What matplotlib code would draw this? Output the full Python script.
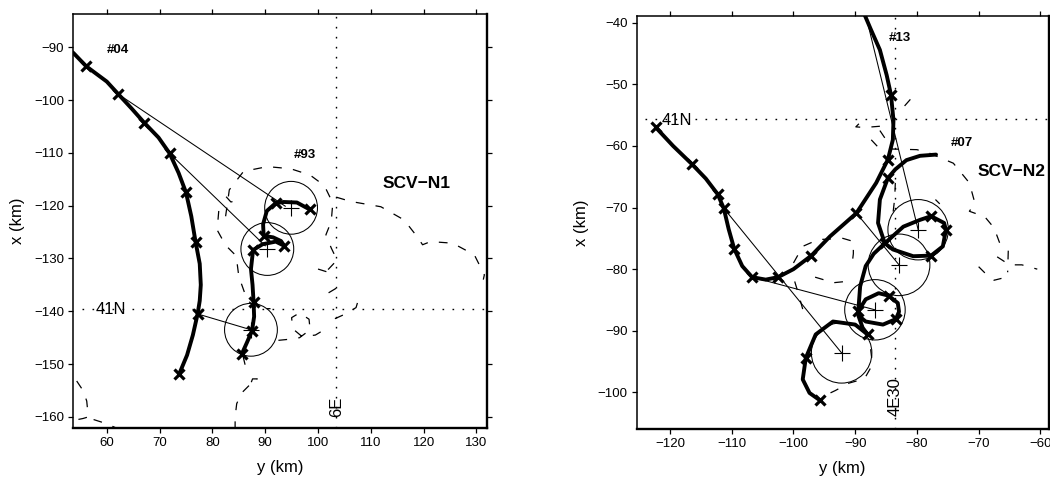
import matplotlib
matplotlib.use("Agg")
import matplotlib.pyplot as plt
from matplotlib.patches import Circle

plt.rcParams['font.family'] = ['Liberation Sans', 'DejaVu Sans']

# ---------------- Left panel (SCV-N1) ----------------
L_xticks = [60, 70, 80, 90, 100, 110, 120, 130]
L_yticks = [-160, -150, -140, -130, -120, -110, -100, -90]

L_track04_y = [52, 53.7, 56.1, 60, 62.2, 64.7, 67.1, 69.8, 71.9, 73.6, 75.0, 76.0, 76.8, 77.6, 77.8, 77.6, 77.2, 76.3, 75.2, 73.7]
L_track04_x = [-89.8, -91.1, -93.6, -96.5, -98.9, -101.6, -104.3, -107.1, -110.1, -113.8, -117.5, -122, -126.8, -131, -135, -138, -140.5, -144.5, -148.3, -151.9]
L_mark04_y = [56.1, 62.2, 67.1, 71.9, 75.0, 76.8, 77.2, 73.7]
L_mark04_x = [-93.6, -98.9, -104.3, -110.1, -117.5, -126.8, -140.5, -151.9]

L_track93_y = [98.4, 96.0, 93.5, 92.0, 90.3, 89.6, 89.7, 91.5, 93.0, 93.6, 92.0, 89.5, 87.7, 87.3, 87.6, 87.8, 87.9, 87.5, 86.5, 85.6]
L_track93_x = [-120.7, -119.4, -119.3, -119.5, -121.0, -123.5, -125.7, -126.0, -126.7, -127.6, -126.8, -127.3, -128.4, -132, -135, -138.3, -141, -143.7, -146, -148.0]
L_mark93_y = [92.0, 98.4, 89.7, 93.6, 87.7, 87.8, 87.5, 85.6]
L_mark93_x = [-119.5, -120.7, -125.7, -127.6, -128.4, -138.3, -143.7, -148.0]

L_circ_y = [94.9, 90.4, 87.3]
L_circ_x = [-120.4, -128.2, -143.5]
L_circ_r = [5.0, 5.0, 5.0]

L_link_y0 = [62.2, 71.9, 77.2]
L_link_x0 = [-98.9, -110.1, -140.5]
L_link_y1 = [93.8, 90.0, 87.3]
L_link_x1 = [-120.1, -127.6, -143.5]

L_dashed = [
    ([82.5, 83.2, 85.9, 90.4, 94.8, 98.5, 101.2, 102.8, 102.5, 101.5, 102.5, 103.6, 102.0, 100.5],
     [-122, -117, -113.5, -112.6, -113.0, -114.2, -116.2, -119.5, -123, -125.5, -128, -130.3, -132, -133]),
    ([103.5, 106.2, 111.9, 116.3, 118.8, 119.8, 121.3, 125.5, 129.6, 131.5, 131.3],
     [-118.4, -119.2, -120.2, -122.7, -125.9, -127.4, -126.8, -127.1, -129.3, -133.1, -134]),
    ([82.6, 83.5, 84.7, 84.4], [-118.3, -119.3, -119.0, -118.0]),
    ([81.2, 80.9, 82.5, 84.5, 85.0, 86.6, 88.5, 91.0], [-121, -124.6, -127.5, -129.5, -133.4, -137.9, -139.5, -139.5]),
    ([92.5, 94.5, 96.5, 98.5, 98.3, 96.5, 95.0, 95.2, 97.0, 99.5, 101.5],
     [-145.5, -145.3, -145.0, -143.5, -141.5, -140.3, -141.2, -143.3, -144.8, -144.5, -143.3]),
    ([102.0, 104.5], [-136.5, -135.0]),
    ([103.2, 105.2, 107.2, 107.5, 106.8], [-141.4, -140.5, -139.3, -138.3, -137.5]),
    ([100.0, 101.6, 102.1], [-132.0, -132.5, -134.0]),
    ([54.3, 55.5, 56.2, 56.5, 55.5, 54.5], [-153.2, -155, -157, -160.0, -160.3, -160.5]),
    ([57.5, 60.0, 62.0], [-160.5, -161.3, -162.2]),
    ([84.3, 84.3, 84.6, 85.5, 87.0, 88.3, 88.5, 87.6, 87.3], [-162.5, -160, -157.5, -155.5, -154, -153.5, -152.8, -152.8, -153.6]),
    ([85.8, 86.4], [-148.5, -151.0]),
]

# ---------------- Right panel (SCV-N2) ----------------
R_xticks = [-120, -110, -100, -90, -80, -70, -60]
R_yticks = [-100, -90, -80, -70, -60, -50, -40]

R_track13_y = [-122.3, -119.5, -116.5, -114.2, -112.3, -111.3, -110.5, -109.6, -108.3, -106.7, -104.5, -102.5, -100, -97.1, -94.1, -89.8, -86.6, -84.7, -83.9, -83.8, -84.2, -84.9, -86.0, -87.5, -89.2]
R_track13_x = [-57.0, -60.0, -62.9, -65.3, -67.8, -70.1, -73.5, -76.7, -79.5, -81.3, -81.7, -81.3, -80, -77.8, -74.7, -70.9, -66.0, -62.2, -59.0, -55.8, -51.7, -48.5, -44.4, -41, -37]
R_mark13_y = [-122.3, -116.5, -112.3, -111.3, -109.6, -106.7, -102.5, -97.1, -89.8, -84.7, -84.2]
R_mark13_x = [-57.0, -62.9, -67.8, -70.1, -76.7, -81.3, -81.3, -77.8, -70.9, -62.2, -51.7]

R_track07_y = [-76.9, -79.5, -81.7, -83.5, -84.7, -86.0, -86.3, -85.2, -82.2, -79.5, -77.7, -75.6, -75.3, -75.8, -77.7, -80.6, -83.9, -85.2,
               -87.0, -88.3, -89.2, -89.5, -88.3, -86.2, -84.6, -83.1, -82.9, -83.4, -85.5, -88.3, -89.5, -88.8, -88.0, -90.0, -93.6, -96.4, -98.0, -98.5, -97.4, -95.7]
R_track07_x = [-61.4, -61.6, -62.3, -63.8, -65.2, -68.7, -72.5, -75.8, -73.1, -72.0, -71.4, -72.5, -73.6, -76.3, -77.8, -77.9, -76.8, -75.8,
               -77.5, -79.5, -82.8, -86.8, -84.9, -83.9, -84.3, -85.5, -86.9, -88.1, -89.0, -88.5, -87.5, -89.5, -90.6, -89.0, -88.5, -90.6, -94.4, -97.9, -100.1, -101.3]
R_mark07_y = [-84.7, -85.2, -77.7, -75.3, -77.7, -89.5, -84.6, -83.4, -88.0, -98.0, -95.7]
R_mark07_x = [-65.2, -75.8, -71.4, -73.6, -77.8, -86.8, -84.3, -88.1, -90.6, -94.4, -101.3]

R_circ_y = [-79.8, -82.9, -86.8, -92.2]
R_circ_x = [-73.6, -79.3, -86.6, -93.6]
R_circ_r = [4.9, 5.0, 4.9, 4.9]

R_link_y0 = [-88.6, -111.3, -106.7, -89.8]
R_link_x0 = [-37.5, -70.1, -81.3, -70.9]
R_link_y1 = [-79.8, -92.2, -86.8, -82.9]
R_link_x1 = [-73.6, -93.6, -86.6, -79.3]

R_dashed = [
    ([-86.0, -84.0, -80.0, -77.9, -74.1, -71.5, -70.6, -71.5, -69.0, -67.5, -66.5],
     [-57.5, -60.5, -60.6, -61.2, -62.8, -66.0, -69.3, -70.6, -71.5, -73.3, -76]),
    ([-70.0, -68.8, -67.5, -66.3], [-79.6, -80.8, -81.8, -81.5]),
    ([-67.0, -65.0, -63.0, -60.5], [-78.0, -79.3, -79.3, -80.0]),
    ([-65.2, -65.3], [-77.0, -80.5]),
    ([-82.0, -80.5], [-53.5, -51.8]),
    ([-89.4, -89.9, -88.5, -86.0], [-56.4, -56.9, -57.0, -56.8]),
    ([-87.4, -86.0], [-59.0, -60.5]),
    ([-83.5, -83.6, -84.0], [-66.0, -68.5, -72.0]),
    ([-100.0, -98.5, -96.0, -92.0, -90.3, -90.3, -90.6], [-79.0, -76.3, -75.2, -75.0, -75.5, -77.5, -80.0]),
    ([-99.8, -99.2, -98.5, -97.5], [-82.0, -84.0, -86.5, -87.5]),
    ([-87.5, -87.2, -88.5, -91.0, -93.2, -95.5], [-93.0, -95.5, -97.8, -98.5, -99.7, -100.8]),
    ([-96.5, -93.5, -91.5], [-81.3, -82.2, -82.0]),
    ([-77.0, -76.3], [-68.7, -69.4]),
]

fig = plt.figure(figsize=(10.5, 4.79), dpi=100)
axL = fig.add_axes([73 / 1050, 51 / 479, 414 / 1050, 414 / 479])
axR = fig.add_axes([636.7 / 1050, 49.7 / 479, 412 / 1050, 413.3 / 479])

DASH = (0, (7, 9))
DOT = (0, (1.2, 6))


def style(ax, xticks, yticks, xlim, ylim):
    ax.set_xlim(*xlim)
    ax.set_ylim(*ylim)
    ax.set_xticks(xticks)
    ax.set_yticks(yticks)
    ax.tick_params(direction='out', length=3.5, width=0.9, top=True, right=True,
                   labeltop=False, labelright=False, labelsize=9.5, pad=3)
    for s in ['left', 'top']:
        ax.spines[s].set_linewidth(1.1)
    for s in ['bottom', 'right']:
        ax.spines[s].set_linewidth(1.7)
    ax.set_xlabel('y (km)', fontsize=12)
    ax.set_ylabel('x (km)', fontsize=12)
    ax.xaxis.set_label_coords(0.5, -0.096)
    ax.xaxis.label.set_va('center')
    ax.yaxis.set_label_coords(-0.135, 0.5)
    ax.yaxis.label.set_va('center')


def draw(ax, tracks, marks, circ, links, dashed):
    for (yy, xx) in dashed:
        ax.plot(yy, xx, color='black', lw=0.9, ls=DASH, zorder=2)
    for (y0, x0, y1, x1) in zip(*links):
        ax.plot([y0, y1], [x0, x1], color='black', lw=0.75, zorder=3)
    for (cy, cx, r) in zip(*circ):
        ax.add_patch(Circle((cy, cx), r, fill=False, ec='black', lw=0.75, zorder=3))
    ax.plot(circ[0], circ[1], ls='none', marker='+', ms=11, mew=0.8, color='black', zorder=3)
    for (yy, xx) in tracks:
        ax.plot(yy, xx, color='black', lw=2.8, solid_capstyle='round', solid_joinstyle='round', zorder=4)
    for (yy, xx) in marks:
        ax.plot(yy, xx, ls='none', marker='x', ms=7.5, mew=2.3, color='black', zorder=5)


# Left panel
style(axL, L_xticks, L_yticks, (53.6, 132.0), (-162.1, -83.7))
axL.axvline(103.45, color='black', lw=1.0, ls=DOT, zorder=1)
axL.plot([55.3, 132.0], [-139.6, -139.6], color='black', lw=1.0, ls=DOT, zorder=1)
draw(axL,
     [(L_track04_y, L_track04_x), (L_track93_y, L_track93_x)],
     [(L_mark04_y, L_mark04_x), (L_mark93_y, L_mark93_x)],
     (L_circ_y, L_circ_x, L_circ_r),
     (L_link_y0, L_link_x0, L_link_y1, L_link_x1),
     L_dashed)
axL.text(60.0, -90.6, '#04', fontsize=9.5, fontweight='bold', ha='left', va='center')
axL.text(95.4, -110.4, '#93', fontsize=9.5, fontweight='bold', ha='left', va='center')
axL.text(112.2, -115.8, 'SCV\u2212N1', fontsize=12.5, fontweight='bold', ha='left', va='center')
axL.text(57.8, -139.6, '41N', fontsize=12, ha='left', va='center', zorder=6)
axL.text(103.45, -160.0, '6E', fontsize=12, rotation=90, ha='center', va='bottom', zorder=6)

# Right panel
style(axR, R_xticks, R_yticks, (-125.4, -58.65), (-106.0, -38.9))
axR.axvline(-83.6, color='black', lw=1.0, ls=DOT, zorder=1)
axR.plot([-124.0, -58.65], [-55.7, -55.7], color='black', lw=1.0, ls=DOT, zorder=1)
draw(axR,
     [(R_track13_y, R_track13_x), (R_track07_y, R_track07_x)],
     [(R_mark13_y, R_mark13_x), (R_mark07_y, R_mark07_x)],
     (R_circ_y, R_circ_x, R_circ_r),
     (R_link_y0, R_link_x0, R_link_y1, R_link_x1),
     R_dashed)
axR.text(-84.5, -42.4, '#13', fontsize=9.5, fontweight='bold', ha='left', va='center')
axR.text(-74.5, -59.5, '#07', fontsize=9.5, fontweight='bold', ha='left', va='center')
axR.text(-70.1, -64.1, 'SCV\u2212N2', fontsize=12.5, fontweight='bold', ha='left', va='center')
axR.text(-121.3, -55.8, '41N', fontsize=12, ha='left', va='center', zorder=6)
axR.text(-83.6, -103.9, '4E30', fontsize=12, rotation=90, ha='center', va='bottom', zorder=6)

fig.savefig('out.png', dpi=100)
